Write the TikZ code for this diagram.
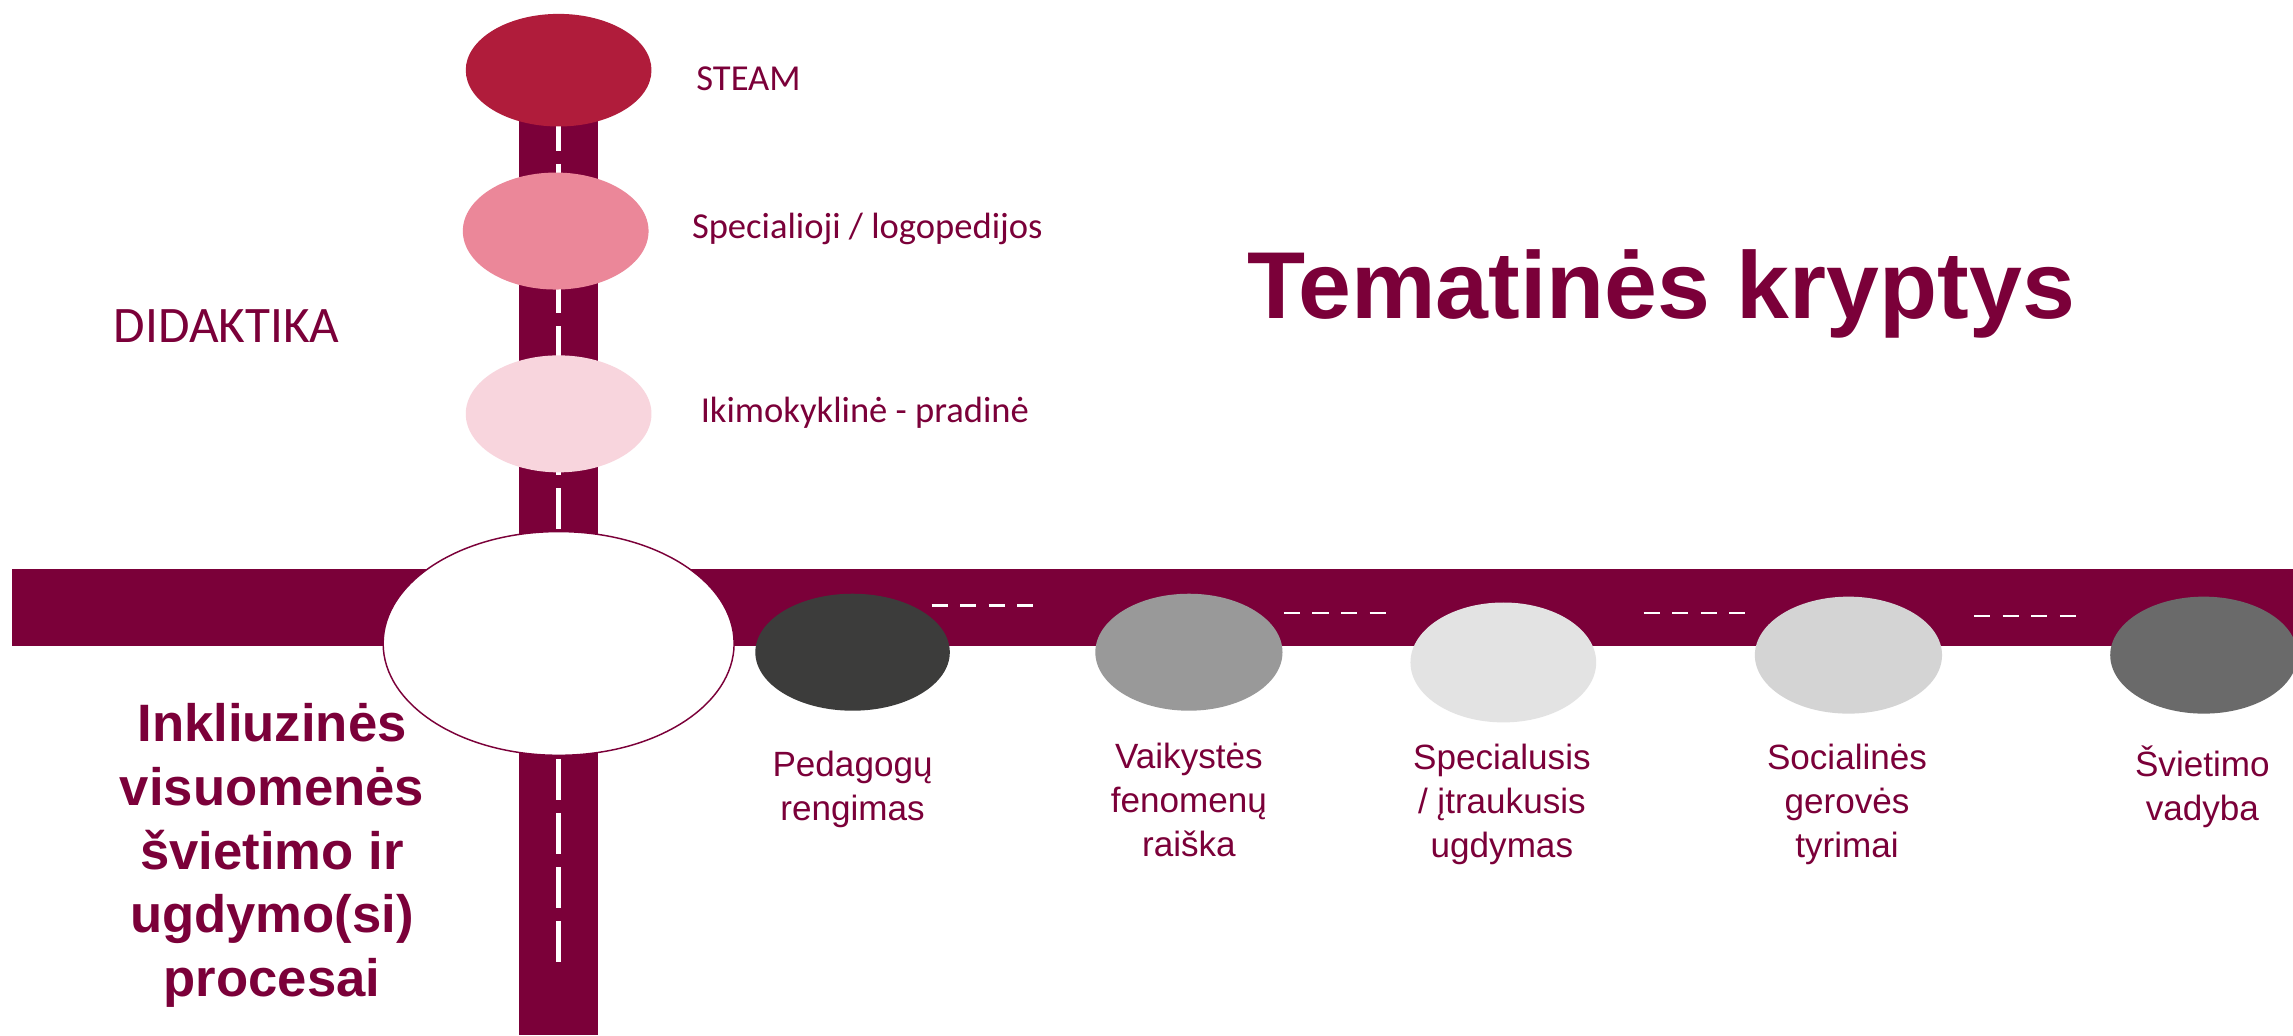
\documentclass[tikz,border=0pt]{standalone}
\usepackage{fontspec}
\usetikzlibrary{shapes.geometric}
\newfontfamily\carlito{Carlito}
\newfontfamily\arialfam{Liberation Sans}
\definecolor{maroon}{HTML}{7B0039}
\definecolor{steamc}{HTML}{B01C3B}
\definecolor{specc}{HTML}{EB8799}
\definecolor{ikimoc}{HTML}{F8D5DD}
\definecolor{ga}{HTML}{3C3C3B}
\definecolor{gb}{HTML}{999999}
\definecolor{gc}{HTML}{E3E3E3}
\definecolor{gd}{HTML}{D4D4D4}
\definecolor{ge}{HTML}{6A6A6A}
\tikzset{
  lane/.style={draw=white, line width=3pt, dash pattern=on 28pt off 9pt},
  hlane/.style={draw=white, line width=1.5pt, dash pattern=on 11pt off 8.5pt},
  blob/.style={ellipse, draw=none, inner sep=0pt, minimum width=127pt, minimum height=80pt},
  toplabel/.style={text=maroon, font=\carlito\fontsize{25}{30}\selectfont, anchor=base west, inner sep=0pt},
  botlabel/.style={text=maroon, font=\arialfam\fontsize{24}{30}\selectfont, align=center, inner sep=0pt}
}
\begin{document}
\begin{tikzpicture}[x=1pt,y=-1pt]
\useasboundingbox (0,0) rectangle (1568,708);
\fill[white] (0,0) rectangle (1568,708);
% roads
\fill[maroon] (355,75) rectangle (409,708);
\fill[maroon] (8,389) rectangle (1568,442);
\draw[lane] (382,75) -- (382,658);
\draw[hlane] (637,414) -- (706.5,414);
\draw[hlane] (878,419) -- (947.5,419);
\draw[hlane] (1124,419) -- (1193.5,419);
\draw[hlane] (1350,421) -- (1419.5,421);
% ellipses
\node[blob, fill=steamc, minimum height=77pt] (steam) at (382,48) {};
\node[blob, fill=specc] (spec) at (380,158) {};
\node[blob, fill=ikimoc] (ikimo) at (382,283) {};
\node[ellipse, draw=maroon, fill=white, line width=1pt, inner sep=0pt, minimum width=240pt, minimum height=153pt] (hub) at (382,440) {};
\node[blob, fill=ga, minimum width=133pt] (ped) at (583,446) {};
\node[blob, fill=gb, minimum width=128pt] (vaik) at (813,446) {};
\node[blob, fill=gc, minimum height=82pt] (spug) at (1028,453) {};
\node[blob, fill=gd, minimum width=128pt] (soc) at (1264,448) {};
\node[blob, fill=ge, minimum width=128pt] (svad) at (1507,448) {};
% top labels
\node[toplabel] (lsteam) at (476,62) {STEAM};
\node[toplabel] (lspec) at (473,163) {Specialioji / logopedijos};
\node[toplabel] (likimo) at (479,289) {Ikimokyklinė - pradinė};
\node[text=maroon, font=\carlito\fontsize{35}{40}\selectfont, anchor=base, inner sep=0pt] (did) at (155,234) {DIDAKTIKA};
\node[text=maroon, font=\arialfam\bfseries\fontsize{65}{78}\selectfont, anchor=base, inner sep=0pt] (title) at (1136,218) {Tematinės kryptys};
\node[text=maroon, font=\arialfam\bfseries\fontsize{36}{43.5}\selectfont, align=center, inner sep=0pt] (inkl) at (186,585) {Inkliuzinės\\visuomenės\\švietimo ir\\ugdymo(si)\\procesai};
% bottom labels
\node[botlabel] (lped) at (583,540) {Pedagogų\\rengimas};
\node[botlabel] (lvaik) at (813,547) {Vaikystės\\fenomenų\\raiška};
\node[botlabel] (lspug) at (1027,550) {Specialusis\\/ įtraukusis\\ugdymas};
\node[botlabel] (lsoc) at (1263,550) {Socialinės\\gerovės\\tyrimai};
\node[botlabel] (lsvad) at (1506,538) {Švietimo\\vadyba};
\end{tikzpicture}
\end{document}
